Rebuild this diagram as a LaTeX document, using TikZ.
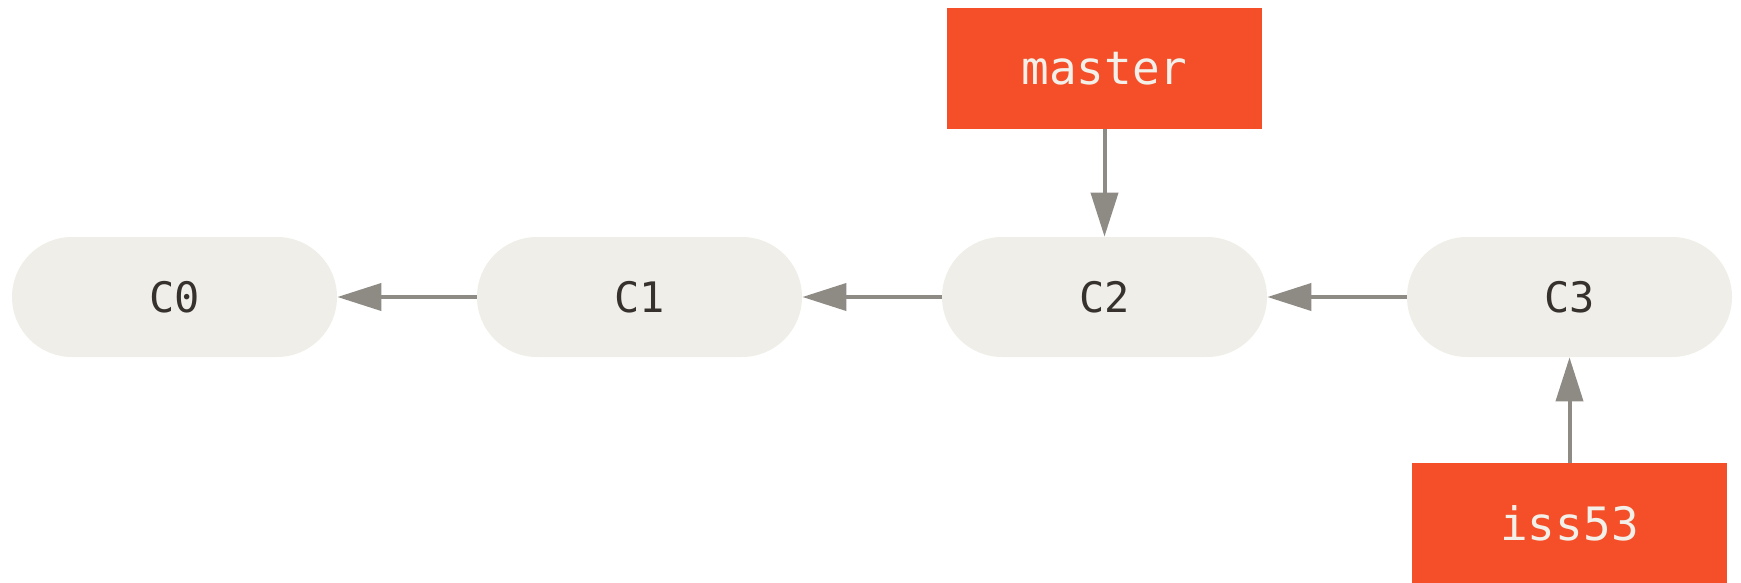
\documentclass[tikz,border=0pt]{standalone}
\usepackage{fontspec}
\setmonofont{DejaVu Sans Mono}
\usetikzlibrary{arrows.meta}
\usetikzlibrary{positioning}
\definecolor{commitfill}{HTML}{EFEEE8}
\definecolor{branchfill}{HTML}{F44F29}
\definecolor{arrowgray}{HTML}{8E8A84}
\definecolor{committext}{HTML}{36312D}
\definecolor{branchtext}{HTML}{F3F0EA}

\begin{document}
\begin{tikzpicture}
    \tikzset{
      ->,
      >={Triangle[length=22pt, width=13.5pt]},
      node distance=232.5pt,
      every edge/.style={draw=arrowgray, line width=2pt},
      commit/.style={fill=commitfill, text=committext, minimum width=162.5pt,
        minimum height=60pt, rounded corners=30pt, inner sep=0pt,
        font=\ttfamily\fontsize{21}{26}\selectfont},
      branch/.style={fill=branchfill, text=branchtext, minimum width=157.5pt,
        minimum height=60.5pt, inner sep=0pt,
        font=\ttfamily\fontsize{23}{28}\selectfont},
    }
    \useasboundingbox (0,0) rectangle (870.5pt,-291.5pt);

    \node[commit] (C0) at (87.25pt,-148.5pt) {C0};
    \node[commit, right of=C0] (C1) {C1};
    \node[commit, right of=C1] (C2) {C2};
    \node[commit, right of=C2] (C3) {C3};
    \node[branch, above of=C2, node distance=114.25pt] (master) {master};
    \node[branch, below of=C3, node distance=113.25pt] (iss53) {iss53};

    \draw
      (C1) edge (C0)
      (C2) edge (C1)
      (C3) edge (C2)
      (master) edge (C2)
      (iss53) edge (C3);
  \end{tikzpicture}
\end{document}
